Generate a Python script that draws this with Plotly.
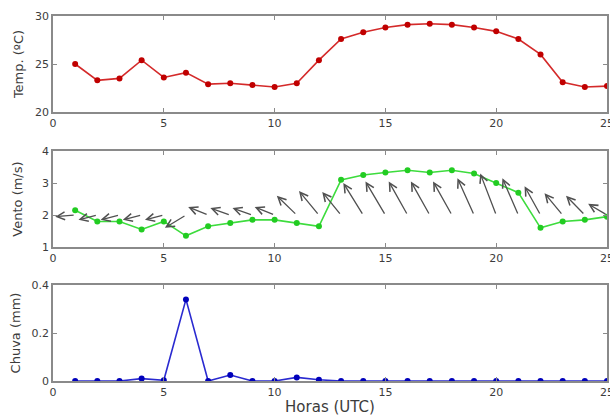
import plotly.graph_objects as go

# ---------------- data ----------------
hours = list(range(1, 26))
temp = [25.0, 23.3, 23.5, 25.4, 23.6, 24.1, 22.9, 23.0, 22.8, 22.6, 23.0, 25.4, 27.6,
        28.3, 28.8, 29.1, 29.2, 29.1, 28.8, 28.4, 27.6, 26.0, 23.1, 22.6, 22.7]
wind_speed = [2.15, 1.8, 1.8, 1.55, 1.8, 1.35, 1.65, 1.75, 1.85, 1.85, 1.75, 1.65, 3.1,
              3.25, 3.33, 3.4, 3.33, 3.4, 3.3, 3.0, 2.7, 1.6, 1.8, 1.85, 1.95]
# wind vector components (as drawn, in axis units)
wind_u = [-0.9, -0.85, -0.85, -0.85, -0.85, -0.95, -0.9, -0.9, -0.9, -0.9, -0.9, -0.9, -0.85,
          -0.9, -0.9, -0.85, -0.85, -0.85, -0.75, -0.72, -0.72, -0.72, -0.82, -0.85, -0.85]
wind_v = [-0.05, -0.15, -0.15, -0.15, -0.15, -0.4, 0.25, 0.22, 0.22, 0.25, 0.6, 0.75, 0.72,
          1.0, 1.05, 1.05, 1.05, 1.05, 1.15, 1.3, 1.15, 0.9, 0.68, 0.6, 0.35]
arrow_base = 2.0
rain = [0, 0, 0, 0.01, 0.003, 0.34, 0, 0.025, 0, 0, 0.015, 0.005, 0,
        0, 0, 0, 0, 0, 0, 0, 0, 0, 0, 0, 0]

x_ticks = [0, 5, 10, 15, 20, 25]

FONT = "DejaVu Sans"
GRAY = "#3c3c3c"
FRAME = "#8a8a8a"

fig = go.Figure()

fig.add_trace(go.Scatter(x=hours, y=temp, mode="lines+markers", xaxis="x", yaxis="y",
                         line=dict(color="#d42a2a", width=1.6),
                         marker=dict(color="#c00000", size=6), showlegend=False))
fig.add_trace(go.Scatter(x=hours, y=wind_speed, mode="lines+markers", xaxis="x2", yaxis="y2",
                         line=dict(color="#3ddc3d", width=1.6),
                         marker=dict(color="#22cc22", size=6), showlegend=False))
fig.add_trace(go.Scatter(x=hours, y=rain, mode="lines+markers", xaxis="x3", yaxis="y3",
                         line=dict(color="#2a2ad0", width=1.6),
                         marker=dict(color="#0000bb", size=6), showlegend=False))

annotations = []
for h, u, v in zip(hours, wind_u, wind_v):
    annotations.append(dict(x=h + u, y=arrow_base + v, ax=h, ay=arrow_base,
                            xref="x2", yref="y2", axref="x2", ayref="y2",
                            showarrow=True, arrowhead=5, arrowsize=1.2, arrowwidth=1.3,
                            arrowcolor="#505050", standoff=0, text=""))

axis_common = dict(range=[0, 25], tickvals=x_ticks, ticks="inside", ticklen=4,
                   tickcolor=FRAME, showline=True, linecolor=FRAME, linewidth=1.5,
                   mirror="allticks", showgrid=False, zeroline=False, automargin=False,
                   ticklabeloverflow="allow",
                   tickfont=dict(family=FONT, size=11, color=GRAY))
yaxis_common = dict(ticks="inside", ticklen=4, tickcolor=FRAME, showline=True,
                    linecolor=FRAME, linewidth=1.5, mirror="allticks", showgrid=False,
                    zeroline=False, automargin=False,
                    tickfont=dict(family=FONT, size=11, color=GRAY))
title_font = dict(family=FONT, size=13, color=GRAY)

fig.update_layout(
    width=610, height=417,
    margin=dict(l=53, r=3, t=16, b=36),
    paper_bgcolor="white", plot_bgcolor="white",
    font=dict(family=FONT, size=11, color=GRAY),
    xaxis=dict(axis_common, domain=[0, 1], anchor="y"),
    xaxis2=dict(axis_common, domain=[0, 1], anchor="y2"),
    xaxis3=dict(axis_common, domain=[0, 1], anchor="y3",
                title=dict(text="Horas (UTC)", standoff=4,
                           font=dict(family=FONT, size=15, color=GRAY))),
    yaxis=dict(yaxis_common, domain=[0.737, 1.0], range=[20, 30], tickvals=[20, 25, 30],
               title=dict(text="Temp. (ºC)", standoff=8, font=title_font)),
    yaxis2=dict(yaxis_common, domain=[0.367, 0.630], range=[1, 4], tickvals=[1, 2, 3, 4],
                title=dict(text="Vento (m/s)", standoff=16, font=title_font)),
    yaxis3=dict(yaxis_common, domain=[0, 0.263], range=[0, 0.4], tickvals=[0, 0.2, 0.4],
                ticktext=["0", "0.2", "0.4"],
                title=dict(text="Chuva (mm)", standoff=8, font=title_font)),
    annotations=annotations,
)

fig.write_html("out.html", config={"displayModeBar": False},
               post_script="document.body.style.margin='0';")
